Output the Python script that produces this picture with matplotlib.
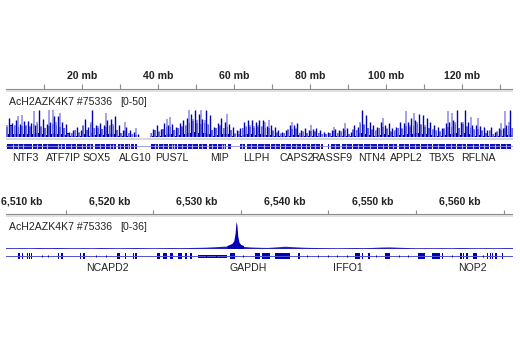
import matplotlib.pyplot as plt
import numpy as np

plt.rcParams['font.family'] = ['Liberation Sans', 'DejaVu Sans']

W, H = 520, 350
BLUE = '#0000b4'
LIGHT = '#8a8ae6'
GREY = '#8c8c8c'

# ---- whole chromosome view (chr12, mb) ----
chr_len = 133.28
track_name = 'AcH2AZK4K7 #75336'
top_range = '[0-50]'

# per 1 mb bin: dense signal, tallest dark spike, tallest light spike
top_mass = [17, 20, 19, 17, 19, 19, 17, 21, 22, 17, 15, 19, 22, 20, 17, 15, 7, 8, 12, 8,
            19, 12, 22, 15, 16, 13, 17, 18, 19, 12, 8, 10, 8, 6, 4, 0.5, 0, 0.5, 8, 12,
            9, 13, 17, 17, 12, 15, 17, 18, 24, 26, 24, 22, 24, 20, 12, 15, 18, 16, 17, 12,
            5, 6, 15, 17, 17, 15, 17, 17, 15, 15, 11, 8, 6, 8, 12, 13, 13, 8, 9, 8,
            11, 9, 8, 5, 5, 8, 11, 8, 9, 12, 6, 12, 12, 22, 20, 15, 12, 11, 15, 17,
            13, 9, 11, 15, 13, 19, 17, 19, 22, 20, 17, 15, 12, 11, 9, 13, 17, 17, 22, 15,
            22, 17, 15, 12, 13, 11, 8, 11, 6, 9, 12, 15, 19, 15]
top_dark = [31, 24, 28, 22, 26, 26, 24, 20, 45, 30, 22, 25, 35, 34, 25, 22, 9, 12, 17, 12,
            30, 17, 44, 20, 24, 20, 28, 30, 34, 20, 12, 17, 12, 9, 6, 1, 0, 1, 14, 20,
            14, 23, 20, 22, 17, 23, 28, 31, 38, 45, 38, 30, 44, 36, 17, 23, 31, 25, 22, 17,
            12, 15, 25, 28, 28, 25, 28, 28, 18, 20, 17, 12, 9, 12, 20, 20, 23, 12, 15, 12,
            14, 15, 12, 9, 9, 12, 14, 12, 15, 16, 9, 20, 17, 45, 36, 25, 20, 17, 25, 20,
            23, 15, 17, 25, 23, 25, 31, 28, 38, 36, 31, 25, 20, 17, 15, 23, 25, 28, 45, 25,
            44, 25, 20, 20, 18, 17, 12, 17, 9, 15, 16, 20, 44, 28]
top_light = [20, 18, 20, 34, 37, 20, 18, 42, 25, 18, 15, 45, 44, 25, 39, 15, 6, 8, 12, 9,
             20, 12, 25, 15, 18, 14, 40, 20, 22, 12, 8, 25, 8, 6, 16, 1, 0, 1, 8, 12,
             10, 14, 30, 33, 12, 15, 18, 20, 44, 30, 28, 44, 28, 22, 12, 15, 20, 16, 38, 12,
             8, 10, 16, 18, 20, 18, 20, 18, 25, 28, 12, 9, 7, 8, 14, 25, 15, 8, 10, 8,
             20, 10, 8, 6, 6, 8, 17, 8, 10, 23, 6, 14, 12, 25, 22, 16, 14, 12, 16, 31,
             15, 10, 12, 16, 15, 42, 20, 39, 25, 22, 20, 16, 14, 12, 10, 15, 42, 39, 25, 16,
             25, 18, 33, 14, 31, 12, 8, 12, 6, 10, 23, 42, 25, 16]
# low continuous floor of the signal, per 1 mb bin
top_floor = [5, 6, 6, 5, 6, 6, 5, 6, 7, 5, 4, 6, 7, 6, 5, 4, 2, 2, 3, 2,
             6, 3, 7, 4, 5, 4, 5, 5, 6, 3, 2, 3, 2, 1.5, 1, 0, 0, 0, 2, 3,
             3, 4, 5, 5, 3, 4, 5, 5, 8, 9, 8, 7, 8, 6, 3, 4, 5, 5, 5, 3,
             1.5, 2, 4, 5, 5, 4, 5, 5, 4, 4, 3, 2, 2, 2, 3, 4, 4, 2, 3, 2,
             3, 3, 2, 1.5, 1.5, 2, 3, 2, 3, 3, 2, 3, 3, 7, 6, 4, 3, 3, 4, 5,
             4, 3, 3, 4, 4, 6, 5, 6, 7, 6, 5, 4, 3, 3, 3, 4, 5, 5, 7, 4,
             7, 5, 4, 3, 4, 3, 2, 3, 2, 3, 3, 4, 6, 4]

top_genes = [(0.2, 6.8), (7.0, 9.5), (9.8, 12.0), (12.2, 15.5), (15.8, 18.5), (18.8, 21.0),
             (21.3, 23.0), (23.5, 26.0), (26.3, 29.0), (29.4, 31.0), (31.3, 32.5), (33.0, 33.6),
             (34.0, 34.5), (38.2, 40.0), (40.3, 42.5), (42.8, 45.0), (45.3, 47.5), (47.8, 50.5),
             (50.8, 53.0), (53.3, 55.5), (55.8, 58.0), (58.3, 59.2), (61.5, 63.0), (63.3, 66.0),
             (66.3, 69.5), (69.8, 72.0), (72.3, 75.0), (75.3, 77.5), (77.8, 80.0), (80.3, 82.5),
             (83.0, 83.4), (84.6, 85.0), (85.6, 88.0), (88.3, 91.0), (91.3, 94.0), (94.3, 97.5),
             (97.8, 100.5), (100.8, 103.0), (103.3, 106.0), (106.3, 109.0), (109.3, 112.0),
             (112.3, 115.5), (115.8, 118.5), (118.8, 121.0), (121.3, 124.5), (124.8, 127.0),
             (127.3, 130.0), (130.3, 133.0)]
top_gene_gaps = [1.8, 3.1, 4.4, 8.2, 10.9, 13.6, 14.4, 17.1, 19.9, 22.1, 24.7, 27.4, 28.2,
                 30.1, 32.0, 39.1, 41.3, 43.6, 44.3, 46.2, 49.0, 51.7, 54.1, 56.8, 57.4,
                 62.1, 64.6, 67.8, 70.9, 73.5, 76.2, 78.9, 81.4, 86.7, 89.5, 92.6, 95.8,
                 99.1, 101.9, 104.6, 107.5, 110.7, 113.8, 117.1, 119.9, 122.8, 125.9,
                 128.6, 131.6]

top_tick_mb = np.arange(10, 131, 10)
top_label_mb = np.arange(20, 121, 20)

top_gene_names = ['NTF3', 'ATF7IP', 'SOX5', 'ALG10', 'PUS7L', 'MIP', 'LLPH', 'CAPS2',
                  'RASSF9', 'NTN4', 'APPL2', 'TBX5', 'RFLNA']
top_gene_pos = [5.0, 15.0, 23.9, 34.0, 43.7, 56.3, 65.8, 76.6, 85.8, 96.3, 105.3, 114.7, 124.2]

# ---- zoomed view around GAPDH (kb) ----
kb_lo, kb_hi = 6508.2, 6566.0
bot_range = '[0-36]'

bg_kb = np.arange(6508, 6567)
bg_val = [1.0, 0.9, 1.0, 0.9, 1.1, 1.0, 1.1, 1.0, 0.9, 1.0, 0.9, 1.1, 1.0, 0.9, 1.0, 1.1,
          1.0, 0.9, 1.0, 1.1, 1.0, 1.1, 1.3, 1.5, 2.0, 2.6, 3.0, 2.6, 1.8, 1.4, 1.2, 1.8,
          2.6, 2.0, 1.5, 1.2, 1.1, 1.0, 0.9, 1.0, 1.1, 1.0, 1.2, 1.6, 1.8, 1.4, 1.1, 0.9,
          1.0, 0.9, 1.0, 0.9, 1.1, 1.0, 0.9, 1.0, 0.9, 1.0, 1.0]
pk_kb = [6533.4, 6533.7, 6534.0, 6534.2, 6534.35, 6534.45, 6534.55, 6534.65, 6534.8, 6535.0, 6535.3]
pk_val = [3.5, 4.5, 6, 9, 18, 31, 27, 14, 7, 4.5, 3.5]

exons = [(6509.55, 6509.77), (6510.0, 6510.1), (6510.57, 6510.7), (6510.8, 6510.9),
         (6511.0, 6511.14), (6514.1, 6514.25), (6514.45, 6514.7), (6516.6, 6516.75),
         (6516.95, 6517.2), (6520.85, 6521.2), (6521.75, 6521.85), (6522.7, 6522.8),
         (6522.95, 6523.1), (6524.35, 6524.45), (6525.4, 6525.75), (6526.1, 6526.55),
         (6526.9, 6527.25), (6527.8, 6528.3), (6528.6, 6528.85), (6529.2, 6529.4),
         (6533.75, 6534.3), (6534.85, 6534.95), (6535.65, 6535.75), (6536.6, 6537.2),
         (6537.4, 6538.3), (6538.9, 6540.6), (6541.5, 6541.7), (6548.0, 6548.6),
         (6548.8, 6548.9), (6549.5, 6549.7), (6551.4, 6552.0), (6555.2, 6556.0),
         (6556.8, 6557.7), (6557.95, 6558.05), (6560.0, 6560.2), (6560.4, 6560.5),
         (6560.65, 6560.9), (6561.5, 6562.0), (6563.1, 6563.2), (6563.4, 6563.5),
         (6563.7, 6563.8), (6564.0, 6564.2), (6564.8, 6564.9)]
dense_block = (6530.1, 6533.4)
small_ticks = [6512.3, 6513.0, 6518.5, 6519.6, 6531.0, 6532.2, 6535.2, 6542.6, 6543.8,
               6544.9, 6546.0, 6547.1, 6550.4, 6553.0, 6554.1, 6559.1, 6562.6]

bot_tick_kb = np.arange(6515, 6566, 10)
bot_label_kb = np.arange(6510, 6561, 10)

bot_gene_names = ['NCAPD2', 'GAPDH', 'IFFO1', 'NOP2']
bot_gene_pos = [6519.8, 6535.8, 6547.2, 6561.4]


fig = plt.figure(figsize=(W / 100, H / 100), dpi=100)


def box(x0, y0, x1, y1):
    ax = fig.add_axes([x0 / W, 1 - y1 / H, (x1 - x0) / W, (y1 - y0) / H])
    ax.set_axis_off()
    return ax


def ruler(y_top, y_line, lo, hi, ticks, labels, fmt):
    ax = box(6, y_top, 512.5, y_line + 4)
    ax.set_xlim(lo, hi)
    ax.set_ylim(y_line + 4, y_top)
    ax.plot([lo, hi], [y_line, y_line], color=GREY, lw=0.8)
    ax.plot([lo, hi], [y_line + 2.3, y_line + 2.3], color='#dedede', lw=1.3)
    ax.vlines(ticks, y_line - 4.5, y_line, color=GREY, lw=0.8)
    for v in labels:
        ax.text(v, y_line - 12.5, fmt(v), ha='center', va='center',
                fontsize=7.6, fontweight='bold', color='#222222')


# top panel
ruler(66, 88.5, 0, chr_len, top_tick_mb, top_label_mb, lambda v: f'{v} mb')
fig.text(9 / W, 1 - 102 / H, track_name, va='center', fontsize=7.6, color='#222222')
fig.text(120 / W, 1 - 102 / H, top_range, va='center', fontsize=7.6, color='#222222')

ax = box(6, 106.5, 512.5, 137.5)
ax.set_xlim(0, chr_len)
ax.set_ylim(0, 50)
bins = np.arange(len(top_mass))
ax.vlines(bins + 0.25, 0, top_light, color=LIGHT, lw=1.1)
ax.bar(bins, top_floor, width=1.0, align='edge', color=BLUE, linewidth=0)
ax.bar(bins + 0.05, top_mass, width=0.4, align='edge', color=BLUE, linewidth=0)
ax.vlines(bins + 0.7, 0, top_dark, color=BLUE, lw=1.0)

ax = box(6, 137, 512.5, 162)
ax.set_xlim(0, chr_len)
ax.set_ylim(162, 137)
ax.plot([0, chr_len], [138.8, 138.8], color='#d4d4d4', lw=1.3)
ax.plot([0, chr_len], [146, 146], color=LIGHT, lw=0.6)
for a, b in top_genes:
    ax.fill_between([a, b], 143.5, 148.5, color='#1010b8', linewidth=0)
ax.vlines(top_gene_gaps, 143.5, 148.5, color='#b8b8ee', lw=0.8)
for name, p in zip(top_gene_names, top_gene_pos):
    ax.text(p, 158, name, ha='center', va='center', fontsize=7.6, color='#222222')

# bottom panel
ruler(191, 214, kb_lo, kb_hi, bot_tick_kb, bot_label_kb, lambda v: f'{v // 1000},{v % 1000:03d} kb')
fig.text(9 / W, 1 - 227 / H, track_name, va='center', fontsize=7.6, color='#222222')
fig.text(120 / W, 1 - 227 / H, bot_range, va='center', fontsize=7.6, color='#222222')

ax = box(6, 217, 512.5, 248.5)
ax.set_xlim(kb_lo, kb_hi)
ax.set_ylim(0, 36)
ax.fill_between(bg_kb, 0, bg_val, color='#2020c0', linewidth=0)
ax.fill_between(pk_kb, 0, pk_val, color=BLUE, linewidth=0)

ax = box(6, 250, 512.5, 274)
ax.set_xlim(kb_lo, kb_hi)
ax.set_ylim(274, 250)
ax.plot([kb_lo, kb_hi], [256, 256], color='#5050d8', lw=0.7)
for a, b in exons:
    ax.fill_between([a, b], 253.3, 258.7, color=BLUE, linewidth=0)
ax.fill_between(dense_block, 254.5, 257.5, color=BLUE, linewidth=0)
ax.vlines(small_ticks, 254.8, 257.2, color=BLUE, lw=0.7)
for name, p in zip(bot_gene_names, bot_gene_pos):
    ax.text(p, 268, name, ha='center', va='center', fontsize=7.6, color='#222222')

fig.savefig('out.png', dpi=100)
